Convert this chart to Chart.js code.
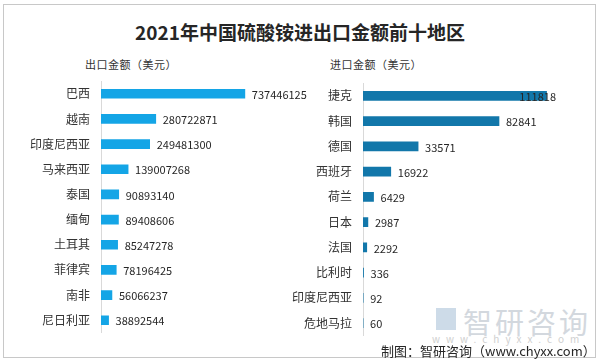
<!DOCTYPE html>
<html>
<head>
<meta charset="utf-8">
<script src="https://cdn.jsdelivr.net/npm/chart.js@4/dist/chart.umd.min.js"></script>
<style>
    body { margin: 0; width: 600px; height: 364px; background: #fff; position: relative; overflow: hidden;
           font-family: "Noto Sans CJK SC", "Noto Sans", sans-serif; }
    .frame { position: absolute; left: 3px; top: 4px; width: 591px; height: 352px; border: 1px solid #c8c8c8; }
    .title { position: absolute; left: 0; width: 600px; top: 18px; text-align: center; font-size: 19px; font-weight: bold; color: #262626; }
    .sub { position: absolute; top: 56px; font-size: 11px; color: #333; letter-spacing: 0.5px; }
    .wm { position: absolute; left: 463px; top: 300px; font-size: 29px; color: #d3d8de; letter-spacing: 3px; }
    .wmlogo { position: absolute; left: 436px; top: 308px; width: 20px; height: 22px; background: #cddbe8; }
    .wmurl { position: absolute; left: 432px; top: 331px; font-size: 10px; color: #d0d0d0; letter-spacing: 6px; }
    .footer { position: absolute; left: 381px; top: 341px; font-size: 13px; color: #262626; }
    canvas { position: absolute; }
</style>
</head>
<body>
<div class="frame"></div>
<div class="title">2021年中国硫酸铵进出口金额前十地区</div>
<div class="sub" style="left:85px">出口金额（美元）</div>
<div class="sub" style="left:330px">进口金额（美元）</div>
<div class="wmlogo"></div>
<div class="wm">智研咨询</div>
<div class="wmurl">www.chyxx.com</div>
<canvas id="exportChart" width="310" height="288" style="left:0;top:63px"></canvas>
<canvas id="importChart" width="320" height="289" style="left:280px;top:65px"></canvas>
<div class="footer">制图：智研咨询（www.chyxx.com）</div>

<script>
const exportCountries = ['巴西', '越南', '印度尼西亚', '马来西亚', '泰国', '缅甸', '土耳其', '菲律宾', '南非', '尼日利亚'];
const exportValues = [737446125, 280722871, 249481300, 139007268, 90893140, 89408606, 85247278, 78196425, 56066237, 38892544];

const importCountries = ['捷克', '韩国', '德国', '西班牙', '荷兰', '日本', '法国', '比利时', '印度尼西亚', '危地马拉'];
const importValues = [111818, 82841, 33571, 16922, 6429, 2987, 2292, 336, 92, 60];

const fontFamily = '"Noto Sans CJK SC", "Noto Sans", sans-serif';

// draws the value next to each bar, pulled back inside if it would run off the plot
const valueLabels = {
    id: 'valueLabels',
    afterDatasetsDraw(chart) {
        const ctx = chart.ctx;
        const limit = chart.options.labelLimit;
        ctx.save();
        ctx.font = '11px ' + fontFamily;
        ctx.fillStyle = '#262626';
        ctx.textBaseline = 'middle';
        chart.getDatasetMeta(0).data.forEach((bar, i) => {
            const text = String(chart.data.datasets[0].data[i]);
            const w = ctx.measureText(text).width;
            let x = bar.x + 7;
            if (x + w > limit) x = limit - w;
            ctx.fillText(text, x, bar.y + 1);
        });
        ctx.restore();
    }
};

function createBarChart(id, labels, values, color, axisWidth, max, pad, labelLimit) {
    const ctx = document.getElementById(id).getContext('2d');
    return new Chart(ctx, {
        type: 'bar',
        data: {
            labels: labels,
            datasets: [{
                data: values,
                backgroundColor: color,
                barThickness: 9
            }]
        },
        plugins: [valueLabels],
        options: {
            indexAxis: 'y',
            responsive: false,
            animation: false,
            labelLimit: labelLimit,
            layout: { padding: pad },
            plugins: {
                legend: { display: false },
                tooltip: { enabled: false }
            },
            scales: {
                x: { display: false, min: 0, max: max },
                y: {
                    grid: { color: 'rgba(0,0,0,0)', drawTicks: false },
                    border: { display: true, color: '#d9d9d9' },
                    ticks: { color: '#333', padding: 11, font: { size: 12, family: fontFamily } },
                    afterFit: scale => { scale.width = axisWidth; }
                }
            }
        }
    });
}

// export chart: plot runs from x=101 to x=300
createBarChart('exportChart', exportCountries, exportValues, '#14a5e6', 101, 1020000000,
    { top: 0, bottom: 0, left: 0, right: 10 }, 310);
// import chart: plot runs from x=363 to x=560
createBarChart('importChart', importCountries, importValues, '#1277aa', 83, 120000,
    { top: 0, bottom: 0, left: 0, right: 40 }, 276);
</script>
</body>
</html>
